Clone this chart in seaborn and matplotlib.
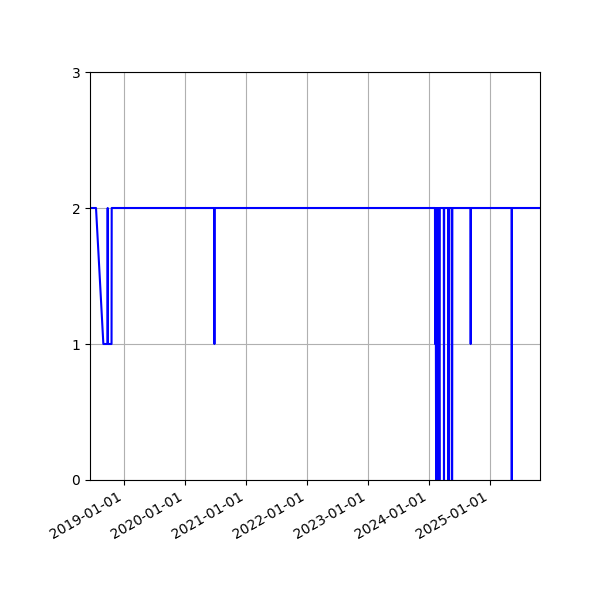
import pandas as pd
import seaborn as sns
import matplotlib
matplotlib.use('Agg')
import matplotlib.pyplot as plt
import matplotlib.dates as mdates

# 값이 바뀌는 지점들
dates = [
    '2018-06-11', '2018-07-17', '2018-08-30', '2018-09-24', '2018-09-25', '2018-09-26',
    '2018-10-18', '2018-10-19',
    '2020-06-24', '2020-06-25', '2020-06-26',
    '2024-02-06', '2024-02-07', '2024-02-10', '2024-02-13', '2024-02-16', '2024-02-19',
    '2024-02-22', '2024-02-25', '2024-02-28', '2024-03-02', '2024-03-05', '2024-03-06',
    '2024-03-30', '2024-03-31', '2024-04-01',
    '2024-04-26', '2024-04-27', '2024-04-28',
    '2024-05-16', '2024-05-17', '2024-05-19', '2024-05-20',
    '2024-09-06', '2024-09-07', '2024-09-08',
    '2025-05-10', '2025-05-11', '2025-05-12',
    '2025-10-27',
]
values = [
    2, 2, 1, 1, 2, 1,
    1, 2,
    2, 1, 2,
    2, 1, 2, 0, 2, 0,
    2, 0, 2, 0, 0, 2,
    2, 0, 2,
    2, 0, 2,
    2, 0, 0, 2,
    2, 1, 2,
    2, 0, 2,
    2,
]
y_ticks = [0, 1, 2, 3]

df = pd.DataFrame({'date': pd.to_datetime(dates), 'value': values})

fig, ax = plt.subplots(figsize=(6, 6), dpi=100)
sns.lineplot(data=df, x='date', y='value', color='blue', estimator=None, ax=ax)

ax.set_xlim(df['date'].min(), df['date'].max())
ax.set_ylim(0, 3)
ax.set_yticks(y_ticks)
ax.xaxis.set_major_locator(mdates.YearLocator())
ax.xaxis.set_major_formatter(mdates.DateFormatter('%Y-%m-%d'))
ax.grid(True)
ax.set_xlabel('')
ax.set_ylabel('')
fig.autofmt_xdate()
plt.subplots_adjust(left=0.15, right=0.9, top=0.88, bottom=0.2)
plt.savefig('out.png')
